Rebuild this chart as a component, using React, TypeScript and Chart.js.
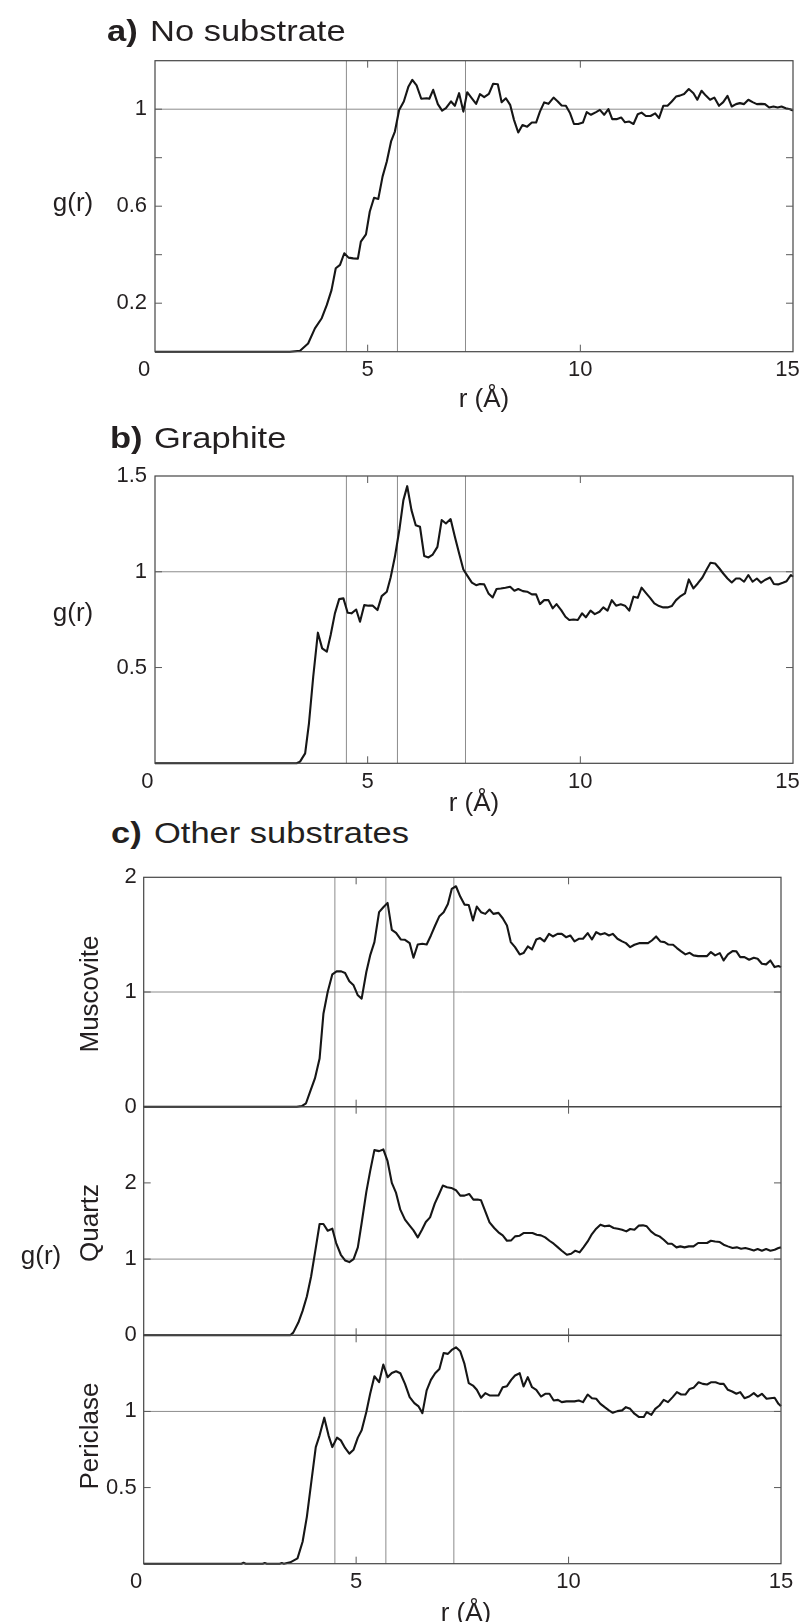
import React, { useEffect, useRef } from 'react';
import { Chart, registerables } from 'chart.js';

Chart.register(...registerables);

const FONT = "'Liberation Sans', Arial, Helvetica, sans-serif";
const INK = '#231f20';

type Pt = [number, number];

// ---- data: [r (Å), g(r)] ----
const noSubstrate: Pt[] = [
  [0, 0], [3.17, 0], [3.41, 0.004], [3.6, 0.034], [3.76, 0.096], [3.92, 0.138], [4.04, 0.193], [4.15, 0.254],
  [4.25, 0.344], [4.35, 0.358], [4.45, 0.406], [4.55, 0.388], [4.66, 0.385], [4.77, 0.384], [4.84, 0.454],
  [4.96, 0.484], [5.05, 0.578], [5.15, 0.635], [5.25, 0.63], [5.35, 0.722], [5.45, 0.784], [5.55, 0.867],
  [5.64, 0.908], [5.74, 0.997], [5.85, 1.032], [5.96, 1.094], [6.05, 1.121], [6.15, 1.098], [6.26, 1.043],
  [6.39, 1.045], [6.45, 1.043], [6.54, 1.08], [6.65, 1.021], [6.75, 0.994], [6.84, 1.004], [6.96, 1.032],
  [7.05, 1.014], [7.15, 1.066], [7.25, 0.99], [7.34, 1.07], [7.45, 1.045], [7.55, 1.022], [7.64, 1.062],
  [7.74, 1.05], [7.85, 1.063], [7.95, 1.105], [8.06, 1.103], [8.15, 1.029], [8.25, 1.045], [8.35, 1.018],
  [8.44, 0.956], [8.54, 0.904], [8.64, 0.935], [8.75, 0.928], [8.86, 0.945], [8.96, 0.945], [9.05, 0.99],
  [9.15, 1.028], [9.25, 1.022], [9.37, 1.048], [9.47, 1.032], [9.56, 1.015], [9.66, 1.014], [9.76, 0.983],
  [9.85, 0.939], [9.95, 0.939], [10.06, 0.945], [10.15, 0.988], [10.25, 0.977], [10.37, 0.988], [10.46, 0.997],
  [10.56, 0.977], [10.66, 1.0], [10.75, 0.959], [10.85, 0.959], [10.96, 0.966], [11.05, 0.946], [11.15, 0.949],
  [11.25, 0.939], [11.35, 0.979], [11.44, 0.986], [11.54, 0.972], [11.65, 0.972], [11.76, 0.983], [11.85, 0.963],
  [11.95, 1.014], [12.05, 1.014], [12.15, 1.032], [12.25, 1.052], [12.34, 1.056], [12.44, 1.063], [12.55, 1.083],
  [12.66, 1.066], [12.75, 1.039], [12.85, 1.076], [12.95, 1.056], [13.05, 1.039], [13.15, 1.048], [13.26, 1.014],
  [13.36, 1.029], [13.46, 1.055], [13.56, 1.011], [13.66, 1.021], [13.75, 1.025], [13.85, 1.021], [13.95, 1.039],
  [14.05, 1.029], [14.15, 1.021], [14.25, 1.022], [14.34, 1.021], [14.44, 1.007], [14.54, 1.011], [14.64, 1.007],
  [14.73, 1.011], [14.83, 1.004], [14.93, 1.0], [15.0, 0.994],
];

const graphite: Pt[] = [
  [0, 0], [3.17, 0], [3.33, 0], [3.41, 0.009], [3.53, 0.052], [3.62, 0.209], [3.72, 0.452], [3.83, 0.682],
  [3.93, 0.6], [4.04, 0.583], [4.13, 0.67], [4.23, 0.783], [4.33, 0.857], [4.43, 0.861], [4.53, 0.786],
  [4.62, 0.783], [4.73, 0.803], [4.82, 0.739], [4.92, 0.826], [5.02, 0.823], [5.12, 0.823], [5.23, 0.8],
  [5.33, 0.873], [5.45, 0.896], [5.54, 0.97], [5.64, 1.078], [5.75, 1.226], [5.84, 1.374], [5.93, 1.447],
  [6.03, 1.322], [6.13, 1.243], [6.23, 1.235], [6.33, 1.082], [6.43, 1.075], [6.53, 1.09], [6.64, 1.13],
  [6.74, 1.27], [6.84, 1.252], [6.95, 1.275], [7.05, 1.183], [7.16, 1.087], [7.25, 1.012], [7.35, 0.977],
  [7.45, 0.943], [7.55, 0.93], [7.64, 0.936], [7.74, 0.934], [7.84, 0.887], [7.94, 0.866], [8.03, 0.91],
  [8.13, 0.913], [8.24, 0.917], [8.35, 0.922], [8.45, 0.901], [8.54, 0.91], [8.65, 0.899], [8.75, 0.896],
  [8.86, 0.882], [8.96, 0.882], [9.05, 0.831], [9.15, 0.852], [9.25, 0.852], [9.35, 0.809], [9.44, 0.831],
  [9.55, 0.8], [9.65, 0.765], [9.74, 0.748], [9.84, 0.751], [9.94, 0.748], [10.04, 0.783], [10.13, 0.762],
  [10.24, 0.797], [10.34, 0.779], [10.45, 0.791], [10.54, 0.814], [10.64, 0.797], [10.74, 0.852], [10.84, 0.823],
  [10.95, 0.83], [11.05, 0.823], [11.15, 0.797], [11.25, 0.87], [11.35, 0.864], [11.44, 0.917], [11.54, 0.89],
  [11.64, 0.864], [11.74, 0.835], [11.85, 0.821], [11.95, 0.814], [12.05, 0.814], [12.15, 0.821], [12.25, 0.852],
  [12.34, 0.87], [12.46, 0.887], [12.55, 0.96], [12.66, 0.913], [12.76, 0.939], [12.87, 0.97], [12.97, 1.012],
  [13.06, 1.047], [13.17, 1.043], [13.27, 1.017], [13.36, 0.991], [13.46, 0.965], [13.56, 0.944], [13.66, 0.965],
  [13.75, 0.965], [13.85, 0.948], [13.95, 0.983], [14.05, 0.948], [14.15, 0.965], [14.25, 0.943], [14.34, 0.957],
  [14.46, 0.97], [14.55, 0.936], [14.65, 0.934], [14.76, 0.943], [14.85, 0.951], [14.95, 0.983], [15.0, 0.974],
];

const muscovite: Pt[] = [
  [0, 0], [3.6, 0], [3.72, 0.006], [3.82, 0.03], [3.93, 0.145], [4.03, 0.246], [4.14, 0.42], [4.23, 0.81],
  [4.33, 1.0], [4.44, 1.154], [4.54, 1.18], [4.65, 1.18], [4.74, 1.165], [4.84, 1.093], [4.94, 1.058],
  [5.04, 0.971], [5.13, 0.942], [5.24, 1.174], [5.33, 1.319], [5.43, 1.435], [5.54, 1.696], [5.64, 1.739],
  [5.74, 1.777], [5.84, 1.542], [5.94, 1.516], [6.05, 1.458], [6.15, 1.455], [6.26, 1.426], [6.35, 1.299],
  [6.45, 1.414], [6.56, 1.42], [6.66, 1.414], [6.76, 1.493], [6.86, 1.58], [6.96, 1.661], [7.06, 1.696],
  [7.16, 1.768], [7.25, 1.899], [7.35, 1.922], [7.45, 1.832], [7.55, 1.762], [7.65, 1.759], [7.75, 1.623],
  [7.84, 1.745], [7.94, 1.696], [8.04, 1.681], [8.14, 1.719], [8.23, 1.681], [8.35, 1.69], [8.45, 1.643],
  [8.55, 1.58], [8.64, 1.435], [8.74, 1.391], [8.85, 1.328], [8.94, 1.339], [9.04, 1.397], [9.14, 1.371],
  [9.24, 1.458], [9.33, 1.47], [9.43, 1.441], [9.54, 1.507], [9.63, 1.484], [9.74, 1.507], [9.84, 1.507],
  [9.94, 1.478], [10.04, 1.493], [10.14, 1.441], [10.24, 1.464], [10.34, 1.464], [10.45, 1.513], [10.55, 1.458],
  [10.65, 1.522], [10.75, 1.501], [10.85, 1.513], [10.95, 1.493], [11.04, 1.507], [11.15, 1.464], [11.26, 1.441],
  [11.35, 1.426], [11.45, 1.391], [11.55, 1.412], [11.66, 1.426], [11.77, 1.426], [11.87, 1.426], [11.96, 1.449],
  [12.06, 1.484], [12.16, 1.441], [12.26, 1.435], [12.35, 1.414], [12.46, 1.412], [12.55, 1.383], [12.65, 1.354],
  [12.75, 1.328], [12.85, 1.342], [12.94, 1.319], [13.05, 1.313], [13.14, 1.313], [13.26, 1.313], [13.35, 1.348],
  [13.45, 1.319], [13.56, 1.339], [13.65, 1.275], [13.75, 1.328], [13.86, 1.357], [13.95, 1.354], [14.04, 1.304],
  [14.14, 1.304], [14.25, 1.281], [14.36, 1.299], [14.45, 1.29], [14.55, 1.246], [14.65, 1.241], [14.75, 1.275],
  [14.85, 1.217], [14.94, 1.226], [15.0, 1.217],
];

const quartz: Pt[] = [
  [0, 0], [3.45, 0], [3.52, 0.035], [3.64, 0.167], [3.74, 0.32], [3.84, 0.509], [3.94, 0.772], [4.03, 1.079],
  [4.14, 1.461], [4.23, 1.461], [4.33, 1.373], [4.44, 1.399], [4.53, 1.211], [4.64, 1.057], [4.74, 0.982],
  [4.84, 0.961], [4.94, 1.0], [5.04, 1.154], [5.13, 1.474], [5.24, 1.882], [5.33, 2.154], [5.43, 2.43],
  [5.54, 2.417], [5.64, 2.439], [5.74, 2.285], [5.84, 2.0], [5.94, 1.868], [6.04, 1.649], [6.15, 1.518],
  [6.26, 1.439], [6.35, 1.377], [6.45, 1.285], [6.55, 1.386], [6.64, 1.487], [6.74, 1.548], [6.85, 1.728],
  [6.94, 1.838], [7.04, 1.965], [7.14, 1.943], [7.24, 1.934], [7.35, 1.904], [7.45, 1.833], [7.55, 1.833],
  [7.66, 1.855], [7.76, 1.781], [7.86, 1.781], [7.94, 1.772], [8.04, 1.627], [8.14, 1.482], [8.25, 1.408],
  [8.35, 1.351], [8.45, 1.311], [8.55, 1.241], [8.65, 1.246], [8.74, 1.298], [8.85, 1.307], [8.94, 1.342],
  [9.04, 1.342], [9.15, 1.342], [9.25, 1.32], [9.35, 1.311], [9.45, 1.285], [9.55, 1.241], [9.65, 1.202],
  [9.75, 1.154], [9.84, 1.11], [9.96, 1.057], [10.06, 1.07], [10.16, 1.11], [10.26, 1.088], [10.35, 1.154],
  [10.45, 1.232], [10.55, 1.329], [10.65, 1.399], [10.75, 1.452], [10.85, 1.43], [10.96, 1.439], [11.06, 1.408],
  [11.16, 1.399], [11.26, 1.386], [11.36, 1.364], [11.45, 1.395], [11.55, 1.386], [11.65, 1.439], [11.75, 1.443],
  [11.84, 1.43], [11.94, 1.364], [12.04, 1.32], [12.14, 1.298], [12.24, 1.254], [12.34, 1.202], [12.43, 1.202],
  [12.54, 1.154], [12.63, 1.167], [12.73, 1.154], [12.83, 1.167], [12.94, 1.167], [13.05, 1.211], [13.14, 1.211],
  [13.26, 1.211], [13.35, 1.241], [13.45, 1.232], [13.56, 1.224], [13.65, 1.189], [13.75, 1.167], [13.86, 1.145],
  [13.96, 1.154], [14.06, 1.136], [14.16, 1.145], [14.25, 1.132], [14.36, 1.114], [14.45, 1.132], [14.55, 1.11],
  [14.65, 1.132], [14.75, 1.11], [14.85, 1.123], [14.94, 1.145], [15.0, 1.154],
];

const periclase: Pt[] = [
  [0, 0], [2.3, 0], [2.35, 0.006], [2.4, 0], [2.8, 0], [2.85, 0.005], [2.9, 0], [3.2, 0], [3.25, 0.004],
  [3.3, 0], [3.45, 0.009], [3.62, 0.035], [3.74, 0.144], [3.84, 0.308], [3.94, 0.526], [4.05, 0.766],
  [4.14, 0.843], [4.25, 0.959], [4.35, 0.843], [4.44, 0.766], [4.55, 0.828], [4.64, 0.81], [4.74, 0.76],
  [4.84, 0.723], [4.94, 0.749], [5.04, 0.828], [5.13, 0.876], [5.24, 0.996], [5.33, 1.116], [5.43, 1.231],
  [5.54, 1.192], [5.64, 1.308], [5.74, 1.225], [5.84, 1.253], [5.94, 1.264], [6.04, 1.251], [6.15, 1.181],
  [6.26, 1.094], [6.37, 1.055], [6.47, 1.033], [6.56, 0.989], [6.66, 1.138], [6.76, 1.207], [6.86, 1.251],
  [6.96, 1.279], [7.06, 1.384], [7.16, 1.378], [7.25, 1.404], [7.35, 1.421], [7.45, 1.395], [7.55, 1.312],
  [7.65, 1.186], [7.75, 1.17], [7.84, 1.142], [7.94, 1.09], [8.04, 1.12], [8.14, 1.105], [8.25, 1.105],
  [8.35, 1.105], [8.45, 1.159], [8.55, 1.166], [8.65, 1.207], [8.74, 1.236], [8.85, 1.251], [8.94, 1.164],
  [9.04, 1.225], [9.14, 1.159], [9.24, 1.142], [9.35, 1.098], [9.45, 1.116], [9.55, 1.116], [9.65, 1.072],
  [9.75, 1.076], [9.84, 1.061], [9.95, 1.066], [10.04, 1.066], [10.14, 1.066], [10.24, 1.072], [10.34, 1.061],
  [10.45, 1.111], [10.55, 1.087], [10.65, 1.083], [10.75, 1.05], [10.85, 1.028], [10.95, 1.007], [11.04, 0.991],
  [11.15, 1.002], [11.26, 1.007], [11.35, 1.028], [11.45, 1.017], [11.55, 0.985], [11.66, 0.963], [11.77, 0.963],
  [11.84, 0.996], [11.95, 0.978], [12.04, 1.017], [12.14, 1.039], [12.24, 1.076], [12.34, 1.061], [12.45, 1.094],
  [12.55, 1.127], [12.65, 1.111], [12.75, 1.111], [12.85, 1.148], [12.94, 1.155], [13.06, 1.192], [13.16, 1.181],
  [13.26, 1.177], [13.36, 1.192], [13.46, 1.192], [13.56, 1.181], [13.65, 1.181], [13.75, 1.142], [13.85, 1.131],
  [13.95, 1.116], [14.04, 1.127], [14.14, 1.087], [14.25, 1.098], [14.36, 1.12], [14.45, 1.098], [14.55, 1.116],
  [14.66, 1.083], [14.75, 1.087], [14.85, 1.09], [14.94, 1.05], [15.0, 1.035],
];

// ---- axes / reference values ----
const shellLines = [4.5, 5.7, 7.3];
const unityLine = 1;
const xTickValues = [0, 5, 10, 15];
const xTickMarks = [5, 10];
const yLabelsA = [0.2, 0.6, 1];
const yMarksA = [0.2, 0.4, 0.6, 0.8, 1];
const yLabelsB = [0.5, 1, 1.5];
const yMarksB = [0.5, 1];
const yLabelsMus = [0, 1, 2];
const yMarksMus = [1];
const yLabelsQtz = [0, 1, 2];
const yMarksQtz = [1, 2];
const yLabelsPer = [0.5, 1];
const yMarksPer = [0.5, 1];

const CANVAS_W = 830;
const TICK_FONT = 22;

interface PanelSpec {
  series: Pt[];
  yMax: number;
  yLabels: number[];
  yMarks: number[];
  showX: boolean;
  zeroLabel: string;
  lastLabel: string;
  top: number;
  bottom: number;
  areaLeft: number;
  areaRight: number;
  areaTop: number;
  areaBottom: number;
  yPad: number;
  xPad: number;
}

function makeFramePlugin(spec: PanelSpec) {
  return {
    id: 'frameTicks',
    afterDraw(chart: any) {
      const { ctx, chartArea: a, scales } = chart;
      ctx.save();
      ctx.strokeStyle = '#454545';
      ctx.lineWidth = 1.2;
      ctx.strokeRect(a.left, a.top, a.right - a.left, a.bottom - a.top);
      ctx.strokeStyle = '#5a5a5a';
      ctx.lineWidth = 1;
      const tl = 7;
      ctx.beginPath();
      for (const v of xTickMarks) {
        const px = scales.x.getPixelForValue(v);
        ctx.moveTo(px, a.bottom);
        ctx.lineTo(px, a.bottom - tl);
        ctx.moveTo(px, a.top);
        ctx.lineTo(px, a.top + tl);
      }
      for (const v of spec.yMarks) {
        const py = scales.y.getPixelForValue(v);
        ctx.moveTo(a.left, py);
        ctx.lineTo(a.left + tl, py);
        ctx.moveTo(a.right, py);
        ctx.lineTo(a.right - tl, py);
      }
      ctx.stroke();
      ctx.restore();
    },
  };
}

function ChartPanel({ spec }: { spec: PanelSpec }) {
  const ref = useRef<HTMLCanvasElement | null>(null);
  const h = spec.bottom - spec.top;
  useEffect(() => {
    const canvas = ref.current;
    if (!canvas) return;
    const refColor = '#8c8c8c';
    const chart = new Chart(canvas, {
      type: 'line',
      data: {
        datasets: [
          {
            data: spec.series.map(([x, y]) => ({ x, y })),
            borderColor: '#161616',
            borderWidth: 2.1,
            pointRadius: 0,
            tension: 0,
            fill: false,
            clip: false as any,
            order: 0,
            borderJoinStyle: 'round',
          },
          ...shellLines.map((v) => ({
            data: [{ x: v, y: 0 }, { x: v, y: spec.yMax }],
            borderColor: refColor,
            borderWidth: 1,
            pointRadius: 0,
            fill: false,
            order: 2,
          })),
          {
            data: [{ x: 0, y: unityLine }, { x: 15, y: unityLine }],
            borderColor: refColor,
            borderWidth: 1,
            pointRadius: 0,
            fill: false,
            order: 2,
          },
        ],
      } as any,
      options: {
        responsive: false,
        animation: false,
        devicePixelRatio: 1,
        events: [],
        layout: {
          padding: {
            left: 0,
            top: spec.areaTop - spec.top,
            right: CANVAS_W - spec.areaRight,
            bottom: 0,
          },
        },
        plugins: { legend: { display: false }, tooltip: { enabled: false } },
        scales: {
          x: {
            type: 'linear',
            min: 0,
            max: 15,
            afterBuildTicks: (s: any) => {
              s.ticks = xTickValues.map((v) => ({ value: v }));
            },
            afterFit: (s: any) => {
              s.height = spec.bottom - spec.areaBottom;
            },
            ticks: {
              display: spec.showX,
              autoSkip: false,
              maxRotation: 0,
              padding: spec.xPad,
              color: INK,
              font: { family: FONT, size: TICK_FONT },
              callback: (v: any) => {
                const n = Number(v);
                if (n === 0) return spec.zeroLabel;
                if (n === 15) return spec.lastLabel;
                return String(n);
              },
            },
            grid: { display: false, drawTicks: false },
            border: { display: false },
          },
          y: {
            type: 'linear',
            min: 0,
            max: spec.yMax,
            afterBuildTicks: (s: any) => {
              s.ticks = spec.yLabels.map((v) => ({ value: v }));
            },
            afterFit: (s: any) => {
              s.width = spec.areaLeft;
            },
            ticks: {
              autoSkip: false,
              padding: spec.yPad,
              color: INK,
              font: { family: FONT, size: TICK_FONT },
              callback: (v: any) => String(Math.round(Number(v) * 10) / 10),
            },
            grid: { display: false, drawTicks: false },
            border: { display: false },
          },
        },
      } as any,
      plugins: [makeFramePlugin(spec)],
    });
    return () => chart.destroy();
  }, []);
  return (
    <canvas
      ref={ref}
      width={CANVAS_W}
      height={h}
      style={{ position: 'absolute', left: 0, top: spec.top, width: CANVAS_W, height: h }}
    />
  );
}

const panels: PanelSpec[] = [
  {
    series: noSubstrate, yMax: 1.2, yLabels: yLabelsA, yMarks: yMarksA, showX: true,
    zeroLabel: '0\u2002\u2002', lastLabel: '15\u2002',
    top: 30, bottom: 395, areaLeft: 155, areaRight: 793, areaTop: 60.7, areaBottom: 351.7, yPad: 8, xPad: 5,
  },
  {
    series: graphite, yMax: 1.5, yLabels: yLabelsB, yMarks: yMarksB, showX: true,
    zeroLabel: '0\u2002\u2009', lastLabel: '15\u2002',
    top: 450, bottom: 800, areaLeft: 155, areaRight: 793, areaTop: 476, areaBottom: 763.3, yPad: 8, xPad: 5,
  },
  {
    series: muscovite, yMax: 2, yLabels: yLabelsMus, yMarks: yMarksMus, showX: false,
    zeroLabel: '0', lastLabel: '15',
    top: 850, bottom: 1130, areaLeft: 143.7, areaRight: 781, areaTop: 877.3, areaBottom: 1106.7, yPad: 7, xPad: 5,
  },
  {
    series: quartz, yMax: 3, yLabels: yLabelsQtz, yMarks: yMarksQtz, showX: false,
    zeroLabel: '0', lastLabel: '15',
    top: 1085, bottom: 1360, areaLeft: 143.7, areaRight: 781, areaTop: 1106.7, areaBottom: 1335.3, yPad: 7, xPad: 5,
  },
  {
    series: periclase, yMax: 1.5, yLabels: yLabelsPer, yMarks: yMarksPer, showX: true,
    zeroLabel: '0\u2002\u2009', lastLabel: '15',
    top: 1310, bottom: 1622, areaLeft: 143.7, areaRight: 781, areaTop: 1335.3, areaBottom: 1563.7, yPad: 7, xPad: 5,
  },
];

const textBase: React.CSSProperties = {
  position: 'absolute',
  fontFamily: FONT,
  color: INK,
  lineHeight: 1,
  whiteSpace: 'nowrap',
};

function Title({ letter, text, left, textLeft, baseline }: { letter: string; text: string; left: number; textLeft: number; baseline: number }) {
  const size = 30;
  const top = baseline - 0.8465 * size;
  const stretch: React.CSSProperties = { transform: 'scaleX(1.15)', transformOrigin: 'left center' };
  return (
    <>
      <div style={{ ...textBase, ...stretch, left, top, fontSize: size, fontWeight: 'bold' }}>{letter}</div>
      <div style={{ ...textBase, ...stretch, left: textLeft, top, fontSize: size }}>{text}</div>
    </>
  );
}

function Centered({ text, x, y, size, rotate }: { text: string; x: number; y: number; size: number; rotate?: boolean }) {
  return (
    <div
      style={{
        ...textBase,
        left: x,
        top: y,
        fontSize: size,
        transform: rotate ? 'translate(-50%, -50%) rotate(-90deg)' : 'translate(-50%, -50%)',
      }}
    >
      {text}
    </div>
  );
}

export default function App() {
  return (
    <div style={{ position: 'absolute', left: 0, top: 0, width: 803, height: 1622, overflow: 'hidden', background: '#fff' }}>
      {panels.map((p, i) => (
        <ChartPanel key={i} spec={p} />
      ))}
      <Title letter="a)" text="No substrate" left={107} textLeft={150} baseline={41.7} />
      <Title letter="b)" text="Graphite" left={110} textLeft={154} baseline={448} />
      <Title letter="c)" text="Other substrates" left={111} textLeft={154} baseline={843.5} />
      <Centered text="g(r)" x={73} y={202} size={26} />
      <Centered text="g(r)" x={73} y={612} size={26} />
      <Centered text="g(r)" x={41} y={1255} size={26} />
      <Centered text="r (Å)" x={484} y={398} size={26} />
      <Centered text="r (Å)" x={474} y={802} size={26} />
      <Centered text="r (Å)" x={466} y={1612} size={26} />
      <Centered text="Muscovite" x={88.6} y={994} size={26} rotate />
      <Centered text="Quartz" x={88.6} y={1223} size={26} rotate />
      <Centered text="Periclase" x={88.6} y={1436} size={26} rotate />
    </div>
  );
}
